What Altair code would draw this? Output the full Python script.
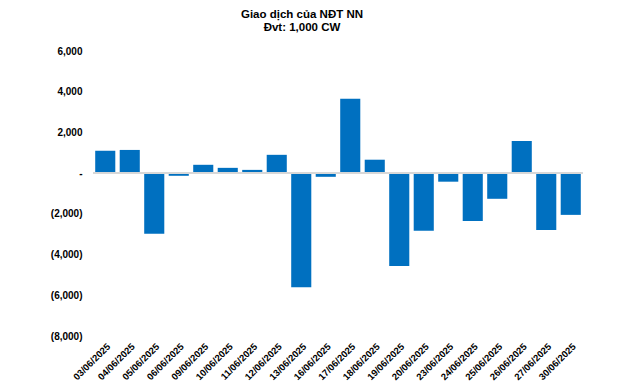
import altair as alt
import pandas as pd

dates = ["03/06/2025", "04/06/2025", "05/06/2025", "06/06/2025", "09/06/2025",
         "10/06/2025", "11/06/2025", "12/06/2025", "13/06/2025", "16/06/2025",
         "17/06/2025", "18/06/2025", "19/06/2025", "20/06/2025", "23/06/2025",
         "24/06/2025", "25/06/2025", "26/06/2025", "27/06/2025", "30/06/2025"]
values = [1100, 1140, -2980, -130, 410, 260, 160, 900, -5600, -180,
          3650, 660, -4560, -2830, -420, -2350, -1260, 1580, -2790, -2050]
y_ticks = [-8000, -6000, -4000, -2000, 0, 2000, 4000, 6000]

df = pd.DataFrame({"date": dates, "value": values})

FONT = "Liberation Sans"

bars = alt.Chart(df).mark_bar(color="#0070C0").encode(
    x=alt.X("date:N", sort=dates, title=None,
            scale=alt.Scale(paddingInner=0.18, paddingOuter=0.09),
            axis=alt.Axis(labelAngle=-45, labelFont=FONT, labelFontWeight="bold",
                          labelFontSize=9.5, labelColor="#000000", domain=False,
                          ticks=False, labelPadding=5)),
    y=alt.Y("value:Q", title=None,
            scale=alt.Scale(domain=[-8000, 6000], nice=False),
            axis=alt.Axis(values=y_ticks, grid=False, domain=False, ticks=False,
                          labelFont=FONT, labelFontWeight="bold", labelFontSize=10,
                          labelColor="#000000", labelPadding=11,
                          labelExpr="datum.value > 0 ? format(datum.value, ',') + '\u2008' : (datum.value < 0 ? '(' + format(-datum.value, ',') + ')' : '-\u2007\u2008')")),
)

zero = alt.Chart(df).mark_rule(color="#d9d9d9", strokeWidth=1).encode(y=alt.datum(0))

chart = alt.layer(bars, zero).properties(
    width=490, height=285,
    autosize=alt.AutoSizeParams(type="none"),
    padding={"left": 85, "top": 43, "right": 49, "bottom": 64},
    title=alt.TitleParams(["Giao dịch của NĐT NN", "Đvt: 1,000 CW"], font=FONT,
                          fontSize=11.5, fontWeight="bold", color="#000000",
                          anchor="middle", dx=-36, offset=13, lineHeight=13),
).configure_view(stroke=None)

chart.save("out.html", embed_options={"renderer": "svg", "actions": False})
